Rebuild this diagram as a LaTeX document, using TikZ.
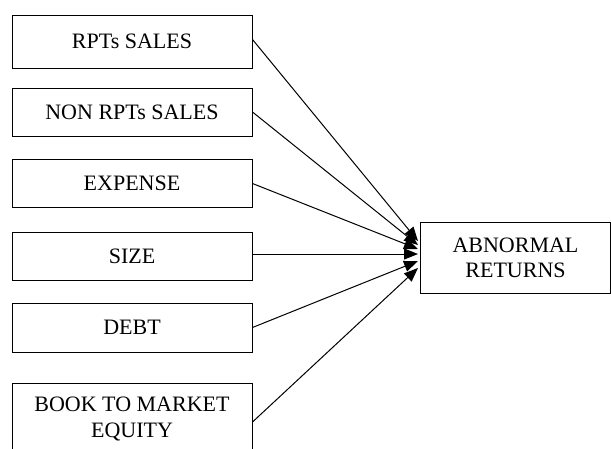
\documentclass[tikz,border=0pt]{standalone}
\usepackage{fontspec}
\setmainfont{Liberation Serif}
\usetikzlibrary{arrows.meta,calc}
\begin{document}
\begin{tikzpicture}[x=1pt,y=-1pt,
  box/.style={draw,line width=1pt,minimum width=240pt,inner sep=0pt,align=center,font=\fontsize{22}{26}\selectfont},
  conn/.style={line width=1pt,-{Triangle[length=14pt,width=11pt]}}]
\useasboundingbox (0,0) rectangle (611,448);
\node[box,minimum height=53pt] (rpt) at (132,41.5) {RPTs SALES};
\node[box,minimum height=48pt] (non) at (132,112) {NON RPTs SALES};
\node[box,minimum height=48pt] (exp) at (132,183.5) {EXPENSE};
\node[box,minimum height=48pt] (size) at (132,256) {SIZE};
\node[box,minimum height=49pt] (debt) at (132,327.5) {DEBT};
\node[box,minimum height=72pt] (book) at (132,419) {BOOK TO MARKET\\EQUITY};
\node[box,minimum width=190pt,minimum height=71pt] (ab) at (515.5,257.5) {ABNORMAL\\[-1pt]RETURNS};
\coordinate (t1) at (418,241);
\coordinate (t2) at (418,245);
\coordinate (t3) at (418,249);
\coordinate (t4) at (418,254);
\coordinate (t5) at (418,261);
\coordinate (t6) at (418,268);
\draw[conn] ($(rpt.east)+(0,-2)$) -- (t1);
\draw[conn] (non.east) -- (t2);
\draw[conn] (exp.east) -- (t3);
\draw[conn] ($(size.east)+(0,-2)$) -- (t4);
\draw[conn] (debt.east) -- (t5);
\draw[conn] ($(book.east)+(0,3)$) -- (t6);
\end{tikzpicture}
\end{document}
